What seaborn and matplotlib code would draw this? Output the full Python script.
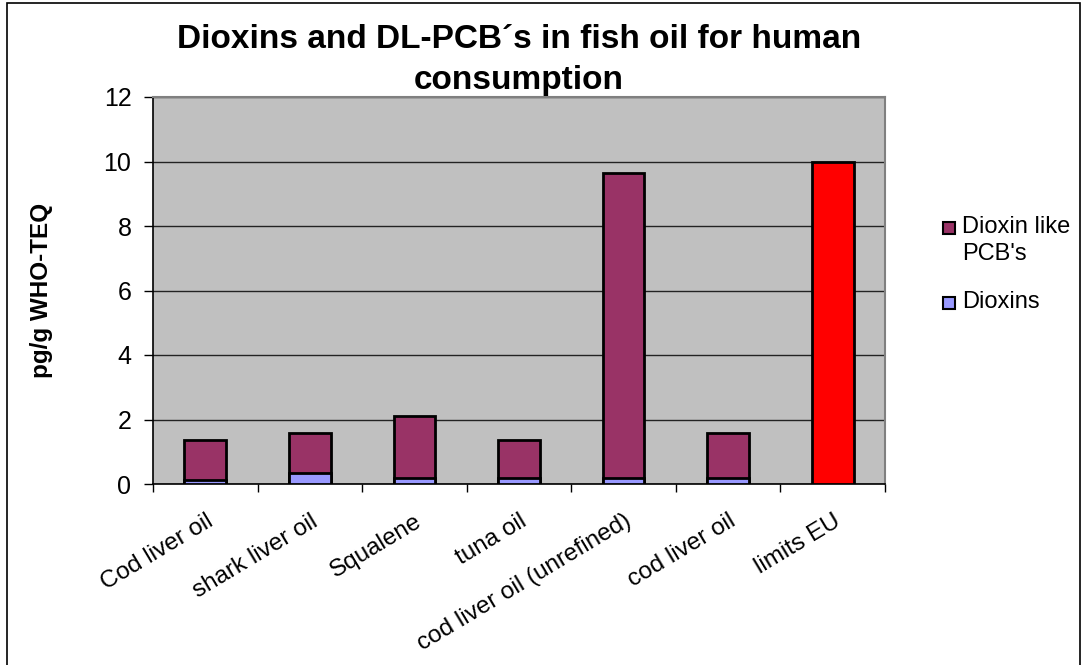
import matplotlib
matplotlib.use("Agg")
import matplotlib.pyplot as plt
from matplotlib.patches import Rectangle
import numpy as np
import pandas as pd
import seaborn as sns

# Data
products = ["Cod liver oil", "shark liver oil", "Squalene", "tuna oil",
            "cod liver oil (unrefined)", "cod liver oil", "limits EU"]
dioxins = [0.13, 0.35, 0.20, 0.20, 0.20, 0.20, 0.0]
dl_pcbs = [1.24, 1.23, 1.90, 1.17, 9.43, 1.38, 10.0]
legend_labels = ["Dioxin like\nPCB's", "Dioxins"]

PCB_COLOR = "#993366"
DIOXIN_COLOR = "#9999FF"
LIMIT_COLOR = "#FF0000"

sns.set_style("white")
plt.rcParams["font.family"] = ["Liberation Sans", "DejaVu Sans"]
plt.rcParams.update({"text.color": "black", "axes.labelcolor": "black",
                     "xtick.color": "black", "ytick.color": "black"})

positions = list(range(len(products)))
df = pd.DataFrame({
    "pos": positions,
    "product": products,
    "dioxins": dioxins,
    "total": np.array(dioxins) + np.array(dl_pcbs),
})

W, H = 1084, 665
fig = plt.figure(figsize=(W / 100, H / 100), dpi=100)
ax = fig.add_axes([153 / W, 1 - 484 / H, 732 / W, 387 / H])
ax.set_facecolor("#C0C0C0")

top_colors = [LIMIT_COLOR if p == "limits EU" else PCB_COLOR for p in products]

# stacked bars: full height in the PCB colour, dioxin part drawn over the base
sns.barplot(data=df, x="pos", y="total", hue="pos", palette=top_colors,
            order=positions, hue_order=positions, legend=False,
            width=0.4, edgecolor="black", linewidth=2, saturation=1, ax=ax,
            zorder=3)
sns.barplot(data=df, x="pos", y="dioxins", order=positions,
            color=DIOXIN_COLOR, width=0.4, edgecolor="black", linewidth=2,
            saturation=1, ax=ax, zorder=4)
for p in ax.patches:
    if p.get_height() == 0:
        p.set_visible(False)

ax.set_xlim(-0.5, len(products) - 0.5)
ax.set_ylim(0, 12)
ax.set_yticks(np.arange(0, 13, 2))
ax.yaxis.grid(True, color="#222222", linewidth=1)
ax.set_axisbelow(True)
ax.tick_params(axis="y", labelsize=18, length=6.5, width=1, color="black",
               labelcolor="black", left=True, direction="out", pad=9)

# category labels at bar centres, tick marks at category boundaries
ax.set_xticks(positions)
ax.set_xticklabels(products, rotation=31, ha="right", rotation_mode="anchor",
                   fontsize=17.5, color="black")
ax.tick_params(axis="x", which="major", length=0, pad=19)
ax.set_xticks(np.arange(-0.5, len(products), 1.0), minor=True)
ax.tick_params(axis="x", which="minor", length=6, width=1, color="black",
               bottom=True, direction="out")
ax.set_xlabel("")
ax.set_ylabel("pg/g WHO-TEQ", fontsize=17.5, fontweight="bold", color="black")
ax.yaxis.set_label_coords(-0.137, 0.5)

for side in ["left", "bottom"]:
    ax.spines[side].set_color("black")
    ax.spines[side].set_linewidth(1.2)
for side in ["top", "right"]:
    ax.spines[side].set_color("#808080")
    ax.spines[side].set_linewidth(1.5)

fig.text(519 / W, 1 - 60 / H,
         "Dioxins and DL-PCB´s in fish oil for human\nconsumption",
         ha="center", va="center", fontsize=24, fontweight="bold",
         linespacing=1.45, color="black")

# legend: square key aligned with the first line of each entry
legend_colors = [PCB_COLOR, DIOXIN_COLOR]
legend_y = [228, 303]
for label, color, yc in zip(legend_labels, legend_colors, legend_y):
    fig.add_artist(Rectangle((943 / W, 1 - (yc + 6) / H), 12 / W, 12 / H,
                             transform=fig.transFigure, facecolor=color,
                             edgecolor="black", linewidth=1.5))
    fig.text(962 / W, 1 - (yc - 12) / H, label, ha="left", va="top",
             fontsize=17, linespacing=1.3, color="black")

# outer chart border
fig.add_artist(Rectangle((7 / W, -0.05), 1073 / W, 1.05 - 3 / H,
                         transform=fig.transFigure, fill=False,
                         edgecolor="black", linewidth=1.2))

fig.savefig("out.png", dpi=100)
